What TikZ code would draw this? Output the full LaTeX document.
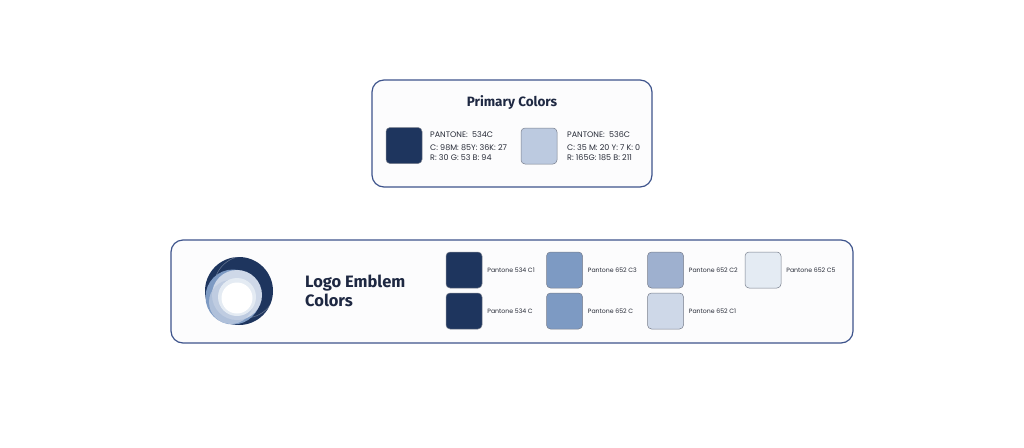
\documentclass[tikz,border=0pt]{standalone}
\usepackage{fontspec}
\setmainfont{Poppins}
\newfontfamily\headfont{Fira Sans}
\usetikzlibrary{positioning}

\definecolor{panelline}{RGB}{62,84,140}
\definecolor{panelfill}{RGB}{252,252,253}
\definecolor{titleink}{RGB}{30,40,66}
\definecolor{inkgrey}{RGB}{40,44,56}
\definecolor{swatchline}{RGB}{120,126,140}
\definecolor{pms534}{RGB}{30,53,94}
\definecolor{pms536}{RGB}{188,202,224}
\definecolor{pms652}{RGB}{125,154,195}
\definecolor{pms652b}{RGB}{158,176,207}
\definecolor{pms652c}{RGB}{206,216,232}
\definecolor{pms652e}{RGB}{228,235,243}

\tikzset{
  panel/.style={draw=panelline, line width=1.2pt, fill=panelfill, rounded corners=12pt, inner sep=0pt},
  swatch/.style={draw=swatchline, line width=0.5pt, rounded corners=4pt, minimum size=36pt, inner sep=0pt},
  code/.style={font=\fontsize{8}{9}\selectfont, text=inkgrey, inner sep=0pt, anchor=west},
  tag/.style={font=\fontsize{6.2}{7}\selectfont, text=inkgrey, inner sep=0pt},
  heading/.style={font=\headfont\bfseries\fontsize{13.5}{17}\selectfont, text=titleink, inner sep=0pt}
}

\begin{document}
\begin{tikzpicture}[x=1pt,y=-1pt]
  \useasboundingbox[fill=white] (0,0) rectangle (1024,447);

  % primary colours
  \node[panel, minimum width=280pt, minimum height=107pt] (primary) at (512,133.5) {};
  \node[heading] (primtitle) at (512,103) {Primary Colors};
  \node[swatch, fill=pms534] (dark) at (404,145.5) {};
  \node[code] (darkname) at (430,135) {PANTONE:~ 534C};
  \node[code] (darkcmyk) at (430,148) {C: 98M: 85Y: 36K: 27};
  \node[code] (darkrgb)  at (430,158) {R: 30 G: 53 B: 94};
  \node[swatch, fill=pms536] (light) at (539,146) {};
  \node[code] (lightname) at (567,135) {PANTONE:~ 536C};
  \node[code] (lightcmyk) at (567,148) {C: 35 M: 20 Y: 7 K: 0};
  \node[code] (lightrgb)  at (567,158) {R: 165G: 185 B: 211};

  % emblem colours
  \node[panel, minimum width=682pt, minimum height=103pt] (emblem) at (512,291.5) {};
  \coordinate (logo) at (239,291);
  \begin{scope}
    \fill[pms534] (logo) circle (34);
    \clip (logo) circle (34);
    \draw[white, opacity=.3, line width=.6pt] (245,287) circle (31);
  \end{scope}
  \fill[pms652] (233,297) circle (27.5);
  \fill[pms652c] (237,295) circle (25);
  \fill[pms536, opacity=.8] (231,302) circle (22);
  \fill[pms652e] (237,297) circle (19);
  \fill[white] (237,298) circle (15.5);
  \node[heading, font=\headfont\bfseries\fontsize{16.5}{19}\selectfont, anchor=west, align=left] (embtitle) at (305,291) {Logo Emblem\\Colors};

  \node[swatch, fill=pms534] (s1) at (464,270) {};
  \node[swatch, fill=pms534] (s2) at (464,311) {};
  \node[swatch, fill=pms652] (s3) at (564.5,270) {};
  \node[swatch, fill=pms652] (s4) at (564.5,311) {};
  \node[swatch, fill=pms652b] (s5) at (665.5,270) {};
  \node[swatch, fill=pms652c] (s6) at (665.5,311) {};
  \node[swatch, fill=pms652e] (s7) at (763,270) {};

  \node[tag, right=5pt of s1] (t1) {Pantone 534 C1};
  \node[tag, right=5pt of s2] (t2) {Pantone 534 C};
  \node[tag, right=5pt of s3] (t3) {Pantone 652 C3};
  \node[tag, right=5pt of s4] (t4) {Pantone 652 C};
  \node[tag, right=5pt of s5] (t5) {Pantone 652 C2};
  \node[tag, right=5pt of s6] (t6) {Pantone 652 C1};
  \node[tag, right=5pt of s7] (t7) {Pantone 652 C5};
\end{tikzpicture}
\end{document}
